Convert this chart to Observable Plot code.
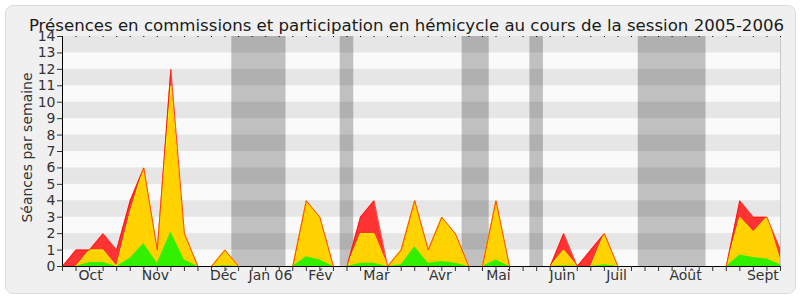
<!DOCTYPE html>
<html>
<head>
<meta charset="utf-8">
<script src="https://cdn.jsdelivr.net/npm/d3@7"></script>
<script src="https://cdn.jsdelivr.net/npm/@observablehq/plot@0.6"></script>
<style>
  html, body { margin: 0; padding: 0; background: #ffffff; }
  #wrap { position: relative; width: 800px; height: 300px; }
  #bg { position: absolute; left: 5px; top: 5px; width: 789px; height: 287px;
        background: #f0f0f0; border: 1px solid #dcdcdc; border-radius: 8px; }
  #chart { position: absolute; left: 0; top: 0; }
</style>
</head>
<body>
<div id="wrap"><div id="bg"></div><div id="chart"></div></div>
<script>
const title = "Présences en commissions et participation en hémicycle au cours de la session 2005-2006";
const yLabel = "Séances par semaine";

// weekly series (week index 0..53)
const weeks = d3.range(54);
const redTotal = [0,1,1,2,1,4,6,1,12,2, 0,0,1,0,0,0,0,0,4,3, 0,0,3,4,0,1,4,1,3,2, 0,0,4,0,0,0,0,2,0,1, 2,0,0,0,0,0,0,0,0,0, 4,3,3,1];
const yellowComm = [0,0,1,1,0,3.3,6,1,11,2, 0,0,1,0,0,0,0,0,4,3, 0,0,2,2,0,1,4,1,3,2, 0,0,4,0,0,0,0,1,0,0, 2,0,0,0,0,0,0,0,0,0, 3,2.1,3,0.3];
const greenHemi = [0,0,0.25,0.25,0,0.5,1.4,0.2,2.1,0.4, 0,0,0.05,0,0,0,0,0,0.6,0.4, 0,0,0.2,0.2,0,0.1,1.2,0.2,0.3,0.2, 0,0,0.4,0,0,0,0,0.05,0,0, 0.1,0,0,0,0,0,0,0,0,0, 0.7,0.55,0.45,0.1];

// holidays (week positions)
const vacStart = [12.5, 20.5, 29.5, 34.5, 42.5];
const vacEnd   = [16.5, 21.5, 31.5, 35.5, 47.5];

// month labels
const monthLabels = ["Oct","Nov","Déc","Jan 06","Fév","Mar","Avr","Mai","Juin","Juil","Août","Sept"];
const monthPos    = [2.07, 6.86, 11.88, 15.35, 19.04, 23.18, 27.9, 32.18, 36.9, 40.9, 45.99, 51.7];

const yTicks = d3.range(0, 15);
const stripes = [1,3,5,7,9,11,13];

const table = weeks.map(i => ({w: i, red: redTotal[i], yellow: yellowComm[i], green: greenHemi[i]}));
const vac = vacStart.map((s, i) => ({s, e: vacEnd[i]}));
const months = monthLabels.map((m, i) => ({m, x: monthPos[i]}));

const chart = Plot.plot({
  width: 800, height: 300,
  marginLeft: 62, marginRight: 20, marginTop: 36, marginBottom: 34,
  x: {domain: [0, 53], axis: null},
  y: {domain: [0, 14], axis: null},
  style: {background: "transparent", fontFamily: "DejaVu Sans", fontSize: "14px", color: "#333"},
  marks: [
    Plot.frame({fill: "#fafafa", stroke: null}),
    Plot.rect(stripes, {y1: d => d, y2: d => d + 1, fill: "#e6e6e6"}),
    Plot.rect(vac, {x1: "s", x2: "e", fill: "#000", fillOpacity: 0.23}),
    Plot.areaY(table, {x: "w", y: "red", fill: "#ff3333", curve: "linear"}),
    Plot.areaY(table, {x: "w", y: "yellow", fill: "#ffd200", curve: "linear"}),
    Plot.areaY(table, {x: "w", y: "green", fill: "#33f000", curve: "linear"}),
    Plot.lineY(table, {x: "w", y: "yellow", stroke: "#ffee00", strokeWidth: 1}),
    Plot.lineY(table, {x: "w", y: "red", stroke: "#ff1000", strokeWidth: 1, strokeOpacity: 0.75}),
    Plot.ruleY([0], {stroke: "#000"}),
    Plot.ruleX([0], {stroke: "#000"}),
    Plot.ruleX([53], {stroke: "#c8c8c8"}),
    Plot.axisY({ticks: yTicks, tickSize: 5, tickPadding: 2, fontSize: 14, tickFormat: d => String(d), stroke: "#333", fill: "#333"}),
    Plot.axisX({ticks: weeks, tickSize: 5, tickFormat: () => "", stroke: "#333"}),
    Plot.axisX({anchor: "top", ticks: weeks, tickSize: 1, tickFormat: () => "", stroke: "#000"}),
    Plot.text(months, {x: "x", text: "m", frameAnchor: "bottom", dy: 13, fontSize: 14, fill: "#333"}),
    Plot.text([title], {frameAnchor: "top", dx: -15, dy: -17, fontSize: 16.6, fill: "#1a1a1a"}),
    Plot.text([yLabel], {frameAnchor: "left", textAnchor: "middle", rotate: -90, dx: -35, dy: -4, fontSize: 14, fill: "#333"})
  ]
});
document.getElementById("chart").appendChild(chart);
</script>
</body>
</html>
